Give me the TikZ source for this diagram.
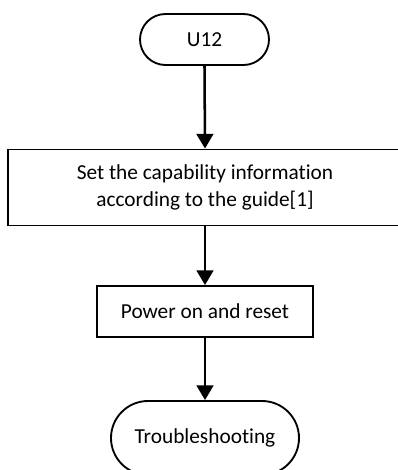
\documentclass[tikz,border=0pt]{standalone}
\usepackage{fontspec}
\setmainfont[Ligatures=NoCommon]{Carlito}
\usetikzlibrary{shapes.misc,arrows.meta}
\begin{document}
\begin{tikzpicture}[x=0.75pt,y=-0.75pt,
  shapebox/.style={draw=black,line width=1.4pt,fill=white,inner sep=0pt,align=center,font=\fontsize{16}{20.5}\selectfont},
  term/.style={shapebox,rounded rectangle},
  proc/.style={shapebox,rectangle},
  flow/.style={draw=black,line width=1.9pt,-{Triangle[length=11pt,width=12.5pt]}}]
\useasboundingbox (0,0) rectangle (398,470);
\node[term,minimum width=96.75pt,minimum height=38.25pt] (u12) at (204.5,39.5) {U12};
\node[proc,minimum width=295.5pt,minimum height=57pt] (set) at (205,187.5) {Set the capability information\\according to the guide[1]};
\node[proc,minimum width=162pt,minimum height=38.25pt] (pow) at (205,311.5) {Power on and reset};
\node[term,minimum width=141pt,minimum height=55.5pt] (tr) at (205,438) {Troubleshooting};
\draw[flow] (u12.south) -- (set.north);
\draw[flow] (set.south) -- (pow.north);
\draw[flow] (pow.south) -- (tr.north);
\end{tikzpicture}
\end{document}
